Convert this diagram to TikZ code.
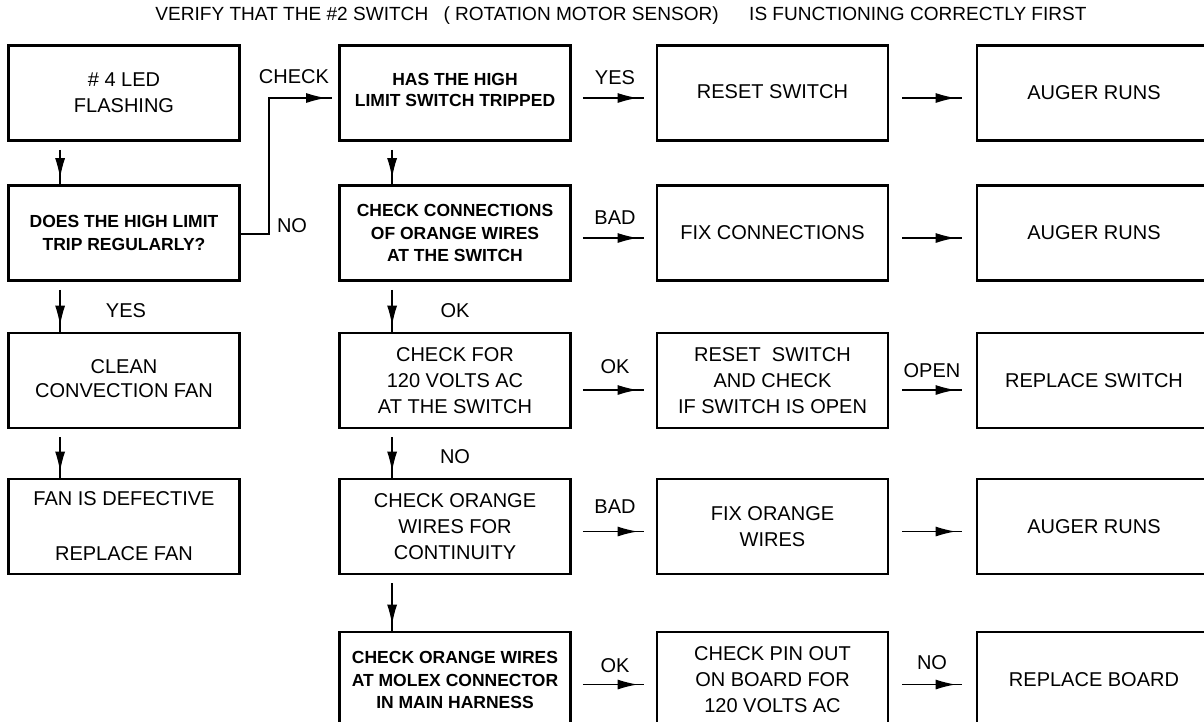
\documentclass[tikz,border=0pt]{standalone}
\usepackage{fontspec}
\setmainfont{Liberation Sans}
\usetikzlibrary{arrows.meta,decorations.markings,calc}
\begin{document}
\begin{tikzpicture}[x=1pt,y=-1pt,
  box/.style={draw, line width=2.8pt, minimum width=231pt, minimum height=95pt,
    inner sep=0pt, align=center, font=\fontsize{20}{26}\selectfont},
  sbox/.style={box, font=\fontsize{17.5}{22.5}\selectfont\bfseries},
  wbox/.style={box, minimum width=234pt},
  lbl/.style={font=\fontsize{20}{24}\selectfont, inner sep=0pt},
  arr/.style={line width=1.3pt, postaction={decorate},
    decoration={markings, mark=at position -6pt with {\arrow{Latex[length=20pt,width=10pt]}}}},
]
\useasboundingbox (0,0) rectangle (1204,721);
\fill[white] (0,0) rectangle (1204,721);

\node[inner sep=0pt] (title) at (621,16) {\resizebox{931pt}{!}{\fontsize{15}{18}\selectfont VERIFY THAT THE \#2 SWITCH\hspace{0.8em}( ROTATION MOTOR SENSOR)\hspace{1.6em}IS FUNCTIONING CORRECTLY FIRST}};

% column 1
\node[box] (led) at (124,93) {\# 4 LED\\FLASHING};
\node[sbox] (trip) at (124,233) {DOES THE HIGH LIMIT\\TRIP REGULARLY?};
\node[box] (clean) at (124,380.5) {\raisebox{4pt}{\shortstack{CLEAN\\[6pt]CONVECTION FAN}}};
\node[box] (fan) at (124,526.5) {FAN IS DEFECTIVE\\[29pt]REPLACE FAN};

% column 2
\node[sbox] (has) at (455,93) {\raisebox{6pt}{\shortstack{HAS THE HIGH\\[5pt]LIMIT SWITCH TRIPPED}}};
\node[sbox] (conn) at (455,233) {CHECK CONNECTIONS\\OF ORANGE  WIRES\\AT THE SWITCH};
\node[box] (volts) at (455,380.5) {CHECK FOR\\120 VOLTS AC\\AT THE SWITCH};
\node[box] (cont) at (455,526.5) {CHECK ORANGE\\WIRES FOR\\CONTINUITY};
\node[sbox, minimum height=96pt] (molex) at (455,680) {CHECK ORANGE WIRES\\AT MOLEX CONNECTOR\\IN MAIN HARNESS};

% column 3
\node[box] (reset) at (772.5,93) {\raisebox{3pt}{RESET SWITCH}};
\node[box] (fixc) at (772.5,233) {FIX CONNECTIONS};
\node[box] (rcheck) at (772.5,380.5) {RESET\ \ SWITCH\\AND CHECK\\IF SWITCH IS OPEN};
\node[box] (fixw) at (772.5,526.5) {FIX ORANGE\\WIRES};
\node[box, minimum height=96pt] (pin) at (772.5,680) {CHECK PIN OUT\\ON BOARD FOR\\120 VOLTS AC};

% column 4
\node[wbox] (aug1) at (1094,93) {AUGER RUNS};
\node[wbox] (aug2) at (1094,233) {AUGER RUNS};
\node[wbox] (repsw) at (1094,380.5) {REPLACE SWITCH};
\node[wbox] (aug3) at (1094,526.5) {AUGER RUNS};
\node[wbox, minimum height=96pt] (repb) at (1094,680) {REPLACE BOARD};

% vertical arrows, column 1
\draw[arr] ($(led.south west)+(53,8)$) -- ($(trip.north west)+(53,0)$);
\draw[arr] ($(trip.south west)+(53,8)$) -- ($(clean.north west)+(53,0)$);
\draw[arr] ($(clean.south west)+(53,8)$) -- ($(fan.north west)+(53,0)$);
% vertical arrows, column 2
\draw[arr] ($(has.south west)+(54,8)$) -- ($(conn.north west)+(54,0)$);
\draw[arr] ($(conn.south west)+(54,8)$) -- ($(volts.north west)+(54,0)$);
\draw[arr] ($(volts.south west)+(54,8)$) -- ($(cont.north west)+(54,0)$);
\draw[arr] ($(cont.south west)+(54,8)$) -- ($(molex.north west)+(54,0)$);

% CHECK connector
\draw[arr] ($(trip.east)+(0,1)$) -- ++(28,0) |- ($(has.west)+(-6,5)$);

% horizontal arrows col2 -> col3
\draw[arr] ($(has.east)+(11,5)$) -- ($(reset.west)+(-12,5)$);
\draw[arr] ($(conn.east)+(11,5)$) -- ($(fixc.west)+(-12,5)$);
\draw[arr] ($(volts.east)+(11,9.5)$) -- ($(rcheck.west)+(-12,9.5)$);
\draw[arr] ($(cont.east)+(11,5)$) -- ($(fixw.west)+(-12,5)$);
\draw[arr] ($(molex.east)+(11,4.5)$) -- ($(pin.west)+(-12,4.5)$);
% horizontal arrows col3 -> col4
\draw[arr] ($(reset.east)+(13,5)$) -- ($(aug1.west)+(-14,5)$);
\draw[arr] ($(fixc.east)+(13,5)$) -- ($(aug2.west)+(-14,5)$);
\draw[arr] ($(rcheck.east)+(13,9.5)$) -- ($(repsw.west)+(-14,9.5)$);
\draw[arr] ($(fixw.east)+(13,5)$) -- ($(aug3.west)+(-14,5)$);
\draw[arr] ($(pin.east)+(13,4.5)$) -- ($(repb.west)+(-14,4.5)$);

% labels
\node[lbl] (lcheck) at (294,77) {CHECK};
\node[lbl] (lno1) at (292,226) {NO};
\node[lbl] (lyes1) at (126,311) {YES};
\node[lbl] (lok1) at (455,311) {OK};
\node[lbl] (lno2) at (455,457) {NO};
\node[lbl] (lyes2) at (615,78) {YES};
\node[lbl] (lbad1) at (615,218) {BAD};
\node[lbl] (lok2) at (615,367) {OK};
\node[lbl] (lopen) at (932,371) {OPEN};
\node[lbl] (lbad2) at (615,507) {BAD};
\node[lbl] (lok3) at (615,666) {OK};
\node[lbl] (lno3) at (932,663) {NO};
\end{tikzpicture}
\end{document}
